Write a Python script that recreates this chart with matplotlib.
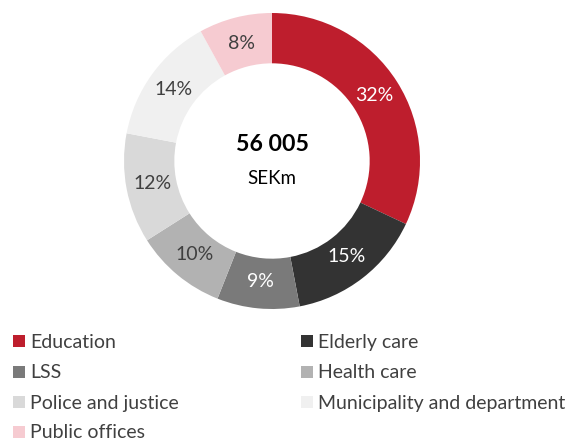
import matplotlib
matplotlib.use("Agg")
import matplotlib.pyplot as plt
from matplotlib.patches import Rectangle

plt.rcParams['font.family'] = ['Lato', 'DejaVu Sans']

categories = ["Education", "Elderly care", "LSS", "Health care",
              "Police and justice", "Municipality and department", "Public offices"]
shares = [32, 15, 9, 10, 12, 14, 8]
colors = ["#BE1E2D", "#333333", "#7A7A7A", "#B2B2B2", "#D9D9D9", "#F0F0F0", "#F6CBD1"]
label_colors = ["white", "white", "white", "#404040", "#404040", "#404040", "#404040"]
total_text = "56 005"
unit_text = "SEKm"

W, H = 571, 441
fig = plt.figure(figsize=(W / 100, H / 100), dpi=100)
cx, cy, r = 272, 161, 148
ax = fig.add_axes([(cx - r) / W, (H - cy - r) / H, 2 * r / W, 2 * r / H])

wedges, texts, autotexts = ax.pie(
    shares, colors=colors, startangle=90, counterclock=False,
    autopct='%.0f%%', pctdistance=0.82,
    wedgeprops=dict(width=0.34, edgecolor='none'),
    textprops=dict(fontsize=14))
for t, c in zip(autotexts, label_colors):
    t.set_color(c)
ax.set_xlim(-1, 1)
ax.set_ylim(-1, 1)
ax.set_aspect('equal')
ax.axis('off')

ax.text(0, 0.11, total_text, ha='center', va='center', fontsize=16.7,
        fontweight='bold', color='black')
ax.text(0, -0.12, unit_text, ha='center', va='center', fontsize=13.5, color='black')

# Legend (row-wise, two columns)
col_x = [13, 301]
row_y = [341, 371.5, 402, 431.5]
sq = 12
for i, (name, col) in enumerate(zip(categories, colors)):
    row, c = divmod(i, 2)
    x = col_x[c]
    y = row_y[row]
    fig.add_artist(Rectangle((x / W, (H - y - sq / 2) / H), sq / W, sq / H,
                             transform=fig.transFigure, facecolor=col,
                             edgecolor='none'))
    fig.text((x + sq + 5) / W, (H - y) / H, name, ha='left', va='center_baseline',
             fontsize=14, color='#404040')

fig.savefig("out.png", dpi=100)
